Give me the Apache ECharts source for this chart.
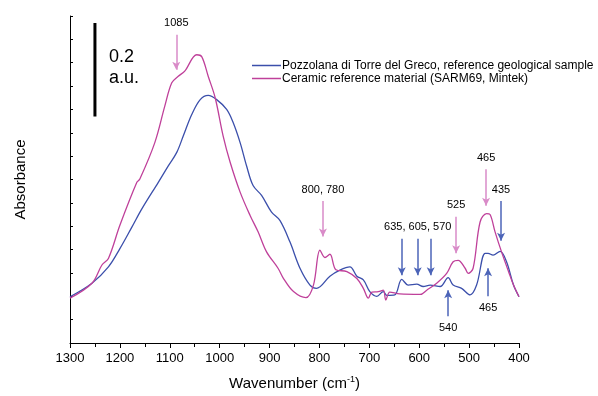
<!DOCTYPE html>
<html><head><meta charset="utf-8">
<script src="https://cdn.jsdelivr.net/npm/echarts@6/dist/echarts.min.js"></script>
<style>html,body{margin:0;padding:0;background:#fff}#c{width:598px;height:396px}</style>
</head><body><div id="c"></div>
<script>
// Pozzolana di Torre del Greco (blue)
const pozzWn  = [1300,1256,1223,1200,1176,1156,1123,1103,1086,1073,1056,1039,1023,1006,986,973,959,946,933,916,896,879,859,839,819,806,779,759,739,725,712,699,685,672,665,649,635,622,605,592,578,558,542,532,515,498,485,468,462,452,438,425,411,400];
const pozzAbs = [0.099,0.128,0.163,0.202,0.248,0.287,0.344,0.379,0.408,0.443,0.489,0.521,0.530,0.521,0.500,0.472,0.429,0.379,0.337,0.316,0.280,0.262,0.216,0.160,0.124,0.117,0.143,0.156,0.163,0.143,0.135,0.110,0.100,0.110,0.102,0.103,0.136,0.124,0.126,0.121,0.124,0.121,0.140,0.124,0.117,0.103,0.124,0.192,0.192,0.188,0.196,0.174,0.124,0.099];
// Ceramic reference material (magenta)
const ceramWn  = [1300,1256,1236,1223,1200,1166,1160,1130,1110,1096,1083,1070,1046,1036,1023,1009,993,979,959,939,923,906,883,872,852,827,812,799,789,779,767,745,725,712,702,695,682,672,667,659,639,598,585,565,545,532,522,508,502,492,478,465,458,448,435,421,411,400];
const ceramAbs = [0.096,0.128,0.167,0.181,0.252,0.344,0.351,0.429,0.507,0.557,0.571,0.582,0.617,0.613,0.571,0.525,0.443,0.387,0.323,0.273,0.238,0.195,0.160,0.138,0.110,0.097,0.124,0.199,0.183,0.190,0.157,0.153,0.138,0.117,0.096,0.109,0.110,0.113,0.092,0.109,0.105,0.104,0.113,0.128,0.149,0.174,0.177,0.160,0.149,0.160,0.259,0.277,0.275,0.238,0.195,0.153,0.124,0.099];
// Annotations: [label, wavenumber, startAbs, endAbs, showLabel]
const ceramArrows = [["1085",1087,0.660,0.585,true],["800, 780",793,0.304,0.228,true],["525",526,0.270,0.192,true],["465",466,0.372,0.294,true]];
const pozzArrows  = [["635, 605, 570",635,0.223,0.145,false],["635, 605, 570",603,0.223,0.145,true],["635, 605, 570",577,0.223,0.145,false],["435",436,0.304,0.219,true],["540",542,0.057,0.113,true],["465",462,0.100,0.160,true]];
const scaleBar = [1250,0.485,0.685];
const seriesNames = ["Pozzolana di Torre del Greco, reference geological sample","Ceramic reference material (SARM69, Mintek)"];

const zip = (a,b)=>a.map((v,i)=>[v,b[i]]);
function ml(arrows,color){
  return {
    silent:true, symbol:['none','arrow'], symbolSize:[6,8], animation:false,
    lineStyle:{color:color,width:1.5,type:'solid'},
    label:{show:true,position:'start',distance:6,color:'#000',fontSize:11,fontFamily:'Liberation Sans, Arial'},
    data:arrows.map(a=>[
      {coord:[a[1],a[2]],label:{show:a[4],formatter:a[0]}},
      {coord:[a[1],a[3]]}
    ])
  };
}
const chart = echarts.init(document.getElementById('c'));
const opt = {
  animation:false,
  textStyle:{fontFamily:'Liberation Sans, Arial'},
  grid:{left:70,right:79,top:16,bottom:51,containLabel:false},
  legend:{
    orient:'vertical',left:247,top:54,itemWidth:29,itemHeight:1.5,itemGap:0,icon:'rect',
    textStyle:{fontSize:12,color:'#000',lineHeight:13,padding:[0,0,0,-4]},
    data:seriesNames
  },
  xAxis:{
    type:'value',inverse:true,min:400,max:1300,interval:100,
    name:'Wavenumber (cm{sup|-1})',nameLocation:'middle',nameGap:32,
    nameTextStyle:{fontSize:15,color:'#000',rich:{sup:{fontSize:9,verticalAlign:'top',padding:[0,0,8,0]}}},
    axisLine:{lineStyle:{color:'#000',width:1}},
    axisTick:{show:true,length:5,lineStyle:{color:'#000'}},
    minorTick:{show:true,splitNumber:2,length:4,lineStyle:{color:'#000'}},
    axisLabel:{fontSize:13,color:'#000',margin:9,formatter:v=>String(v)},
    splitLine:{show:false}
  },
  yAxis:{
    type:'value',min:0,max:0.7,interval:0.05,
    name:'Absorbance',nameLocation:'middle',nameGap:42,
    nameTextStyle:{fontSize:15,color:'#000'},
    axisLine:{show:true,lineStyle:{color:'#000',width:1}},
    axisTick:{show:true,inside:true,length:3,lineStyle:{color:'#000'}},
    axisLabel:{show:false},
    splitLine:{show:false}
  },
  series:[
    {name:seriesNames[0],type:'line',symbol:'none',smooth:0.35,
     lineStyle:{color:'#3b4fab',width:1.3},itemStyle:{color:'#3b4fab'},
     data:zip(pozzWn,pozzAbs),markLine:ml(pozzArrows,'#4c64b8')},
    {name:seriesNames[1],type:'line',symbol:'none',smooth:0.35,
     lineStyle:{color:'#bf409a',width:1.3},itemStyle:{color:'#bf409a'},
     data:zip(ceramWn,ceramAbs),markLine:ml(ceramArrows,'#d98bc8')},
    {name:'scale',type:'line',symbol:'none',silent:true,
     lineStyle:{color:'#000',width:3},
     data:[[scaleBar[0],scaleBar[1]],[scaleBar[0],scaleBar[2]]]}
  ]
};
chart.setOption(opt);
const p = chart.convertToPixel({gridIndex:0},[scaleBar[0],scaleBar[2]]);
chart.setOption({graphic:[{type:'text',left:p[0]+14,top:p[1]+24,
  style:{text:'0.2\na.u.',fontSize:18,lineHeight:21,fill:'#000',fontFamily:'Liberation Sans, Arial'}}]});
</script></body></html>
